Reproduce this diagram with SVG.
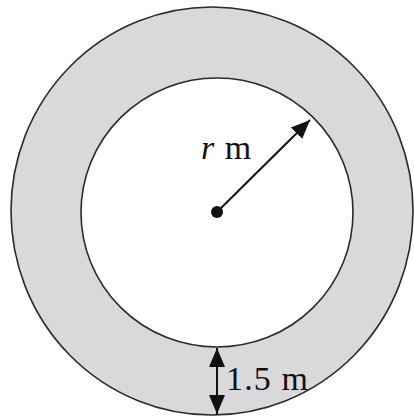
<svg xmlns="http://www.w3.org/2000/svg" width="414" height="419" viewBox="0 0 414 419">
  <style>
    .ring { stroke: #2a2a2a; stroke-width: 1.6; }
    .conn { stroke: #111; stroke-width: 2; fill: none; }
    .lbl { font-family: "Liberation Serif", "Times New Roman", serif; font-size: 34px; fill: #111; }
  </style>
  <defs>
    <marker id="ah" viewBox="0 0 10 10" refX="10" refY="5" markerWidth="19" markerHeight="16" markerUnits="userSpaceOnUse" orient="auto-start-reverse" preserveAspectRatio="none">
      <path d="M0,0 L10,5 L0,10 z" fill="#111"/>
    </marker>
  </defs>
  <rect width="414" height="419" fill="#ffffff"/>
  <g id="outer-circle">
    <ellipse class="ring" cx="212" cy="211" rx="201" ry="204" fill="#d9d9dc"/>
  </g>
  <g id="inner-circle">
    <ellipse class="ring" cx="217" cy="212.5" rx="136" ry="134.5" fill="#ffffff"/>
  </g>
  <g id="centre">
    <circle cx="217" cy="212" r="6" fill="#111"/>
  </g>
  <g id="connectors">
    <line class="conn" x1="217" y1="212" x2="310" y2="120" marker-end="url(#ah)"/>
    <line class="conn" x1="217" y1="348" x2="217" y2="414" marker-start="url(#ah)" marker-end="url(#ah)"/>
  </g>
  <g id="labels">
    <text class="lbl" x="201" y="159" letter-spacing="1"><tspan font-style="italic">r</tspan> m</text>
    <text class="lbl" x="226" y="390" textLength="82" lengthAdjust="spacing">1.5 m</text>
  </g>
</svg>
